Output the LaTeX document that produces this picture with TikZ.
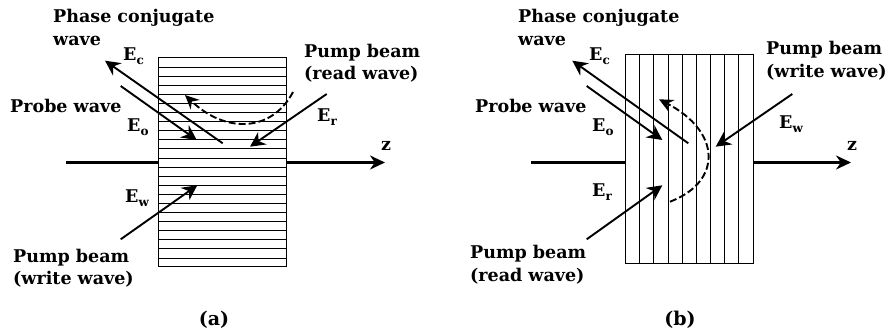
\documentclass[tikz,border=0pt]{standalone}
\usepackage{fontspec}
\setmainfont{DejaVu Serif}
\usepackage{tikz}
\usetikzlibrary{arrows.meta,positioning,calc}
\newcommand{\fld}[1]{E\raisebox{-3.5pt}{\fontsize{12}{12}\selectfont #1}}
\tikzset{
  lbl/.style={anchor=base west, inner sep=0pt, font=\fontsize{17.5}{19}\selectfont\bfseries},
  caption/.style={anchor=base, inner sep=0pt, font=\fontsize{19}{20}\selectfont\bfseries},
  crystal/.style={draw, line width=1pt, inner sep=0pt, minimum width=128pt, minimum height=209pt},
  wave/.style={line width=1.9pt, -{Stealth[length=15pt,width=15pt]}},
  axis/.style={line width=2.7pt},
  curved/.style={line width=1.9pt, dash pattern=on 7pt off 3pt, -{Stealth[length=14pt,width=13pt]}}
}
\begin{document}
\begin{tikzpicture}[x=1pt,y=-1pt]
  \useasboundingbox (0,0) rectangle (888,336);
  % Panel (a): horizontal fringes
  \node[crystal] (blocka) at (222,162.5) {};
  \foreach \i in {1,...,22}
    \draw[line width=0.8pt] (158,58+\i*9.09) -- (286,58+\i*9.09);
  \coordinate (axisa) at (66,162.5);
  \coordinate (za) at (385,162.5);
  \draw[axis] (axisa) -- (blocka.west);
  \draw[axis, -{Stealth[length=15pt,width=14pt]}] (blocka.east) -- (za);
  % Waves
  \coordinate (ecsa) at (222.7,143.3);
  \coordinate (ecea) at (105,60.7);
  \coordinate (eosa) at (120.7,86);
  \coordinate (eoea) at (196.7,140);
  \coordinate (ersa) at (326.7,94);
  \coordinate (erea) at (250,146.7);
  \coordinate (ewsa) at (120.7,239.3);
  \coordinate (ewea) at (197.3,185.3);
  \draw[wave] (ecsa) -- (ecea);
  \draw[wave] (eosa) -- (eoea);
  \draw[wave] (ersa) -- (erea);
  \draw[wave] (ewsa) -- (ewea);
  \coordinate (arcsa) at (293,92);
  \coordinate (arcea) at (185,95);
  \draw[curved] (arcsa) .. controls (272,132) and (226,134) .. (arcea);
  % Labels
  \node[lbl] (phasea) at (53,22.7) {Phase conjugate};
  \node[lbl] (wavea) at (53,46) {wave};
  \node[lbl] (eca) at (123,61) {\fld{c}};
  \node[lbl] (probea) at (10,113) {Probe wave};
  \node[lbl] (eoa) at (127,131.7) {\fld{o}};
  \node[lbl] (pumpra) at (304,58) {Pump beam};
  \node[lbl] (reada) at (304,80) {(read wave)};
  \node[lbl] (era) at (317,122) {\fld{r}};
  \node[lbl] (zlabela) at (381,150.7) {z};
  \node[lbl] (ewa) at (125,202.7) {\fld{w}};
  \node[lbl] (pumpwa) at (13,263) {Pump beam};
  \node[lbl] (writea) at (13,285) {(write wave)};
  \node[caption] (capa) at (214,326) {(a)};
  % Panel (b): vertical fringes
  \node[crystal] (blockb) at (689.5,159.5) {};
  \foreach \i in {1,...,8}
    \draw[line width=0.8pt] (625.5+\i*14.17,55) -- (625.5+\i*14.17,264);
  \coordinate (axisb) at (531,162.5);
  \coordinate (zb) at (851,162.5);
  \coordinate (axisbi) at (625.5,162.5);
  \coordinate (axisbo) at (754,162.5);
  \draw[axis] (axisb) -- (axisbi);
  \draw[axis, -{Stealth[length=15pt,width=14pt]}] (axisbo) -- (zb);
  % Waves
  \coordinate (ecsb) at (688.3,143.3);
  \coordinate (eceb) at (572.3,60.7);
  \coordinate (eosb) at (586.7,86);
  \coordinate (eoeb) at (662.3,140);
  \coordinate (ewsb) at (792.3,94);
  \coordinate (eweb) at (715.7,146.7);
  \coordinate (ersb) at (586.7,239.3);
  \coordinate (ereb) at (662.3,185.3);
  \draw[wave] (ecsb) -- (eceb);
  \draw[wave] (eosb) -- (eoeb);
  \draw[wave] (ewsb) -- (eweb);
  \draw[wave] (ersb) -- (ereb);
  \coordinate (arcsb) at (670,201.7);
  \coordinate (arceb) at (659,99.3);
  \draw[curved] (arcsb) .. controls (722,182) and (722,132) .. (arceb);
  % Labels
  \node[lbl] (phaseb) at (518,22.7) {Phase conjugate};
  \node[lbl] (waveb) at (518,46) {wave};
  \node[lbl] (ecb) at (589,61) {\fld{c}};
  \node[lbl] (probeb) at (475,113) {Probe wave};
  \node[lbl] (eob) at (592,131.7) {\fld{o}};
  \node[lbl] (pumpwb) at (766,54.3) {Pump beam};
  \node[lbl] (writeb) at (766,77.3) {(write wave)};
  \node[lbl] (ewb) at (779,129) {\fld{w}};
  \node[lbl] (zlabelb) at (847,150.7) {z};
  \node[lbl] (erb) at (592,197) {\fld{r}};
  \node[lbl] (pumprb) at (470,258.3) {Pump beam};
  \node[lbl] (readb) at (470,281.7) {(read wave)};
  \node[caption] (capb) at (680,326) {(b)};
\end{tikzpicture}
\end{document}
